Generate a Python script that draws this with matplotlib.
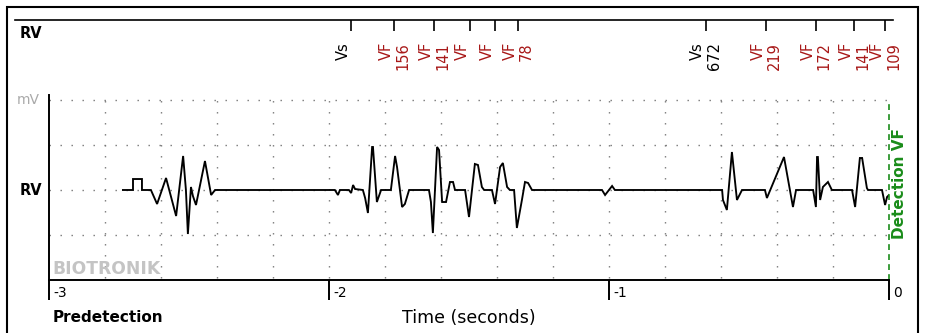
import matplotlib
matplotlib.use('Agg')
import numpy as np
import matplotlib.pyplot as plt
from matplotlib.patches import Rectangle

# RV electrogram, seconds before detection / amplitude in grid units
t_rv = [-2.736, -2.700, -2.700, -2.668, -2.668, -2.636, -2.614, -2.582, -2.546,
        -2.521, -2.511, -2.504, -2.493, -2.486, -2.475, -2.443, -2.421, -2.407,
        -1.979, -1.968, -1.961, -1.929, -1.921, -1.914, -1.907, -1.879, -1.871,
        -1.861, -1.846, -1.843, -1.829, -1.814, -1.779, -1.764, -1.757, -1.739,
        -1.729, -1.714, -1.643, -1.636, -1.629, -1.614, -1.607, -1.596, -1.582,
        -1.568, -1.557, -1.550, -1.514, -1.500, -1.479, -1.468, -1.454, -1.446,
        -1.418, -1.407, -1.389, -1.379, -1.364, -1.354, -1.339, -1.329, -1.311,
        -1.300, -1.289, -1.275, -1.025, -1.014, -0.989, -0.979, -0.596, -0.593,
        -0.579, -0.561, -0.543, -0.525, -0.443, -0.436, -0.375, -0.343, -0.332,
        -0.271, -0.261, -0.257, -0.254, -0.246, -0.236, -0.218, -0.204, -0.132,
        -0.121, -0.104, -0.096, -0.079, -0.075, -0.025, -0.014, -0.007, 0.0]
v_rv = [0.0, 0.0, 0.244, 0.244, 0.0, 0.0, -0.311, 0.267, -0.578,
        0.756, 0.0, -0.978, 0.067, -0.133, -0.333, 0.644, -0.111, 0.0,
        0.0, -0.111, 0.0, 0.0, -0.067, 0.111, 0.022, 0.0, -0.178,
        -0.511, 0.956, 0.956, -0.267, 0.0, 0.0, 0.756, 0.511, -0.378,
        -0.311, 0.0, 0.0, -0.267, -0.956, 0.956, 0.889, -0.267, -0.267,
        0.178, 0.178, 0.0, 0.0, -0.6, 0.578, 0.556, 0.067, 0.0,
        0.0, -0.311, 0.511, 0.6, 0.067, 0.0, 0.0, -0.844, -0.222,
        0.178, 0.156, 0.0, 0.0, -0.111, 0.089, 0.0, 0.0, -0.222,
        -0.444, 0.844, -0.222, 0.0, 0.0, -0.178, 0.733, -0.378, 0.0,
        0.0, -0.378, 0.733, 0.733, -0.222, 0.067, 0.178, 0.0, 0.0,
        -0.378, 0.711, 0.711, 0.044, 0.0, 0.0, -0.333, -0.156, -0.111]

# marker channel
marker_t = [-1.921, -1.768, -1.625, -1.496, -1.407, -1.325,
            -0.654, -0.439, -0.261, -0.125, -0.014]
marker_kind = ['Vs', 'VF', 'VF', 'VF', 'VF', 'VF', 'Vs', 'VF', 'VF', 'VF', 'VF']
marker_ms = ['', '156', '141', '', '', '78', '672', '219', '172', '141', '109']

time_ticks = [-3, -2, -1, 0]
time_labels = ['-3', '-2', '-1', '0']

W, H = 926, 333
fig = plt.figure(figsize=(W / 100, H / 100), dpi=100)
fig.patch.set_facecolor('white')

# outer frame
fig.patches.append(Rectangle((6.5 / W, -0.05), 911 / W, 1.05 - 7 / H,
                             transform=fig.transFigure, fill=False,
                             ec='black', lw=1.5))

# ---- signal axes ----
ax = fig.add_axes([49 / W, 53 / H, 840 / W, 185 / H])
ax.set_xlim(-3, 0)
ax.set_ylim(-2, 2.111)
for s in ['top', 'right']:
    ax.spines[s].set_visible(False)
for s in ['left', 'bottom']:
    ax.spines[s].set_linewidth(1.4)
ax.set_yticks([])
ax.set_xticks(time_ticks)
ax.set_xticklabels([])
ax.tick_params(axis='x', direction='out', length=14.4, width=1.4)

dot = (0, (1.0, 6.92))
for y in [-1, 0, 1, 2]:
    ax.hlines(y, -3, 0, colors='#777777', lw=1.0, linestyles=[dot])
for x in np.arange(-2.8, -0.1, 0.2):
    ax.vlines(x, -1.95, 2, colors='#777777', lw=1.0, linestyles=[dot])

ax.plot(t_rv, v_rv, color='black', lw=1.35, solid_joinstyle='miter')
ax.vlines(0, -2, 2, colors='#1a8c1a', lw=1.2, linestyles=[(0, (3.5, 2.5))],
          clip_on=False)

for t, lab in zip(time_ticks, time_labels):
    ax.annotate(lab, (t, 0), xycoords=('data', 'axes fraction'),
                xytext=(4, -13), textcoords='offset pixels',
                ha='left', va='center', fontsize=10)

ax.text(0.004, 0.06, 'BIOTRONIK', transform=ax.transAxes, color='#c4c4c4',
        fontsize=12.3, fontweight='bold', ha='left', va='center')
ax.annotate('Detection VF', (0, 0.522), xycoords=('data', 'axes fraction'),
            xytext=(11, 0), textcoords='offset pixels', rotation=90,
            ha='center', va='center', color='#1a8c1a', fontsize=11,
            fontweight='bold')

fig.text(31 / W, 1 - 190.5 / H, 'RV', fontsize=10.5, fontweight='bold',
         ha='center', va='center')
fig.text(28 / W, 1 - 100 / H, 'mV', fontsize=10, color='#aaaaaa',
         ha='center', va='center')
fig.text(53 / W, 1 - 318 / H, 'Predetection', fontsize=11,
         fontweight='bold', ha='left', va='center')
fig.text(469 / W, 1 - 318 / H, 'Time (seconds)', fontsize=12.5,
         ha='center', va='center')
fig.text(31 / W, 1 - 33 / H, 'RV', fontsize=10.5, fontweight='bold',
         ha='center', va='center')

# ---- marker axes ----
axm = fig.add_axes([15 / W, 1 - 60 / H, 878 / W, 40 / H])
axm.set_xlim(-3 - 34 / 280, 4 / 280)
axm.set_ylim(0, 1)
axm.patch.set_visible(False)
for s in ['left', 'right', 'bottom']:
    axm.spines[s].set_visible(False)
axm.spines['top'].set_linewidth(1.2)
axm.set_yticks([])
axm.set_xticks(marker_t)
axm.tick_params(axis='x', top=True, bottom=False, labeltop=False,
                labelbottom=False, direction='in', length=8, width=1.2)

for t, k, ms in zip(marker_t, marker_kind, marker_ms):
    c = 'black' if k == 'Vs' else '#a81818'
    axm.annotate(k, (t, 1), xycoords=('data', 'axes fraction'),
                 xytext=(-0.5, -22), textcoords='offset pixels', rotation=90,
                 ha='right', va='top', color=c, fontsize=10.5)
    if ms:
        axm.annotate(ms, (t, 1), xycoords=('data', 'axes fraction'),
                     xytext=(1, -22), textcoords='offset pixels', rotation=90,
                     ha='left', va='top', color=c, fontsize=10.5)

fig.savefig('out.png', dpi=100)
